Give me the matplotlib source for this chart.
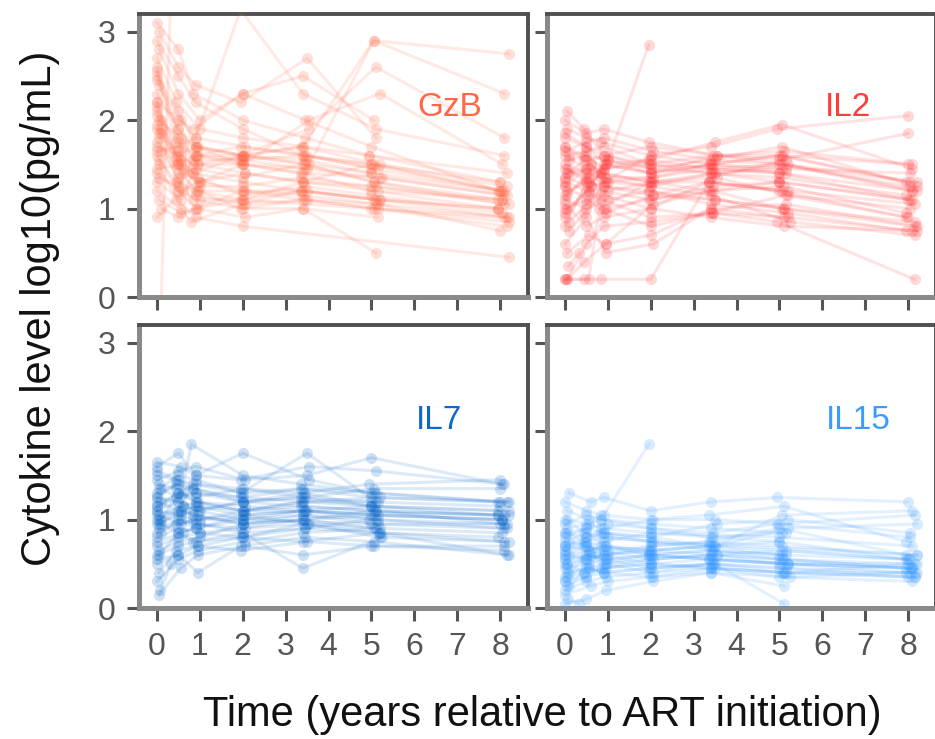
import numpy as np
import matplotlib
matplotlib.use('Agg')
import matplotlib.pyplot as plt

plt.rcParams['font.family'] = ['Liberation Sans', 'DejaVu Sans']

# visit times (years since ART start), one row per participant
TIMES = [
    [0.00, 0.50, 0.90, 2.00, 3.40, 5.00, 8.00],
    [0.00, 0.50, 0.95, 2.00, 3.45, 5.05, 8.05],
    [0.05, 0.55, 0.90, 1.95, 3.40, 5.10, 8.10],
    [0.00, 0.45, 0.85, 2.00, 3.35, 5.00, 7.95],
    [0.00, 0.50, 1.00, 2.05, 3.50, 5.20, 8.20],
    [0.10, 0.60, 0.90, 2.00, 3.40, 4.95, 8.00],
    [0.00, 0.50, 0.95, 1.95, 3.45, 5.05, 8.15],
    [0.05, 0.50, 0.85, 2.00, 3.40, 5.15, 8.05],
    [0.00, 0.55, 0.90, 2.00, 3.55, 5.00, 8.00],
    [0.00, 0.50, 0.95, 2.05, 3.40, 5.10, 8.10],
    [0.05, 0.45, 0.90, 2.00, 3.45, 5.00, 8.20],
    [0.00, 0.50, 1.00, 1.95, 3.40, 5.20, 7.95],
    [0.00, 0.55, 0.80, 2.00, 3.35, 5.05, 8.00],
    [0.10, 0.50, 0.90, 2.00, 3.50, 5.00, 8.10],
    [0.00, 0.60, 0.95, 2.05, 3.40, 5.15, 8.05],
    [0.00, 0.50, 0.85, 2.00, 3.45, 4.95, 8.15],
    [0.05, 0.50, 0.90, 1.95, 3.50, 5.10, 8.00],
    [0.00, 0.45, 1.00, 2.00, 3.40, 5.05, 8.20],
    [0.00, 0.50, 0.90, 2.00, 3.55, 5.20, 8.05],
    [0.05, 0.55, 0.95, 2.05, 3.40, 5.00, 8.10],
    [0.00, 0.50, 0.85, 2.00, 3.35, 5.10, 7.95],
    [0.10, 0.50, 0.90, 1.95, 3.45, 5.05, 8.00],
    [0.00, 0.60, 1.00, 2.00, 3.40, 5.25, 8.15],
    [0.00, 0.50, 0.90, 2.05, 3.50, 5.00, 8.05],
    [0.05, 0.45, 0.95, 2.00, 3.40, 5.15, 8.20],
    [0.00, 0.55, 0.85, 2.00, 3.45, 5.00, 8.00],
    [0.00, 0.50, 0.90, 1.95, 3.55, 5.10, 8.10],
    [0.05, 0.50, 1.00, 2.00, 3.40, 5.05, 8.05],
    [0.08, 0.33, 0.90, 2.00, 3.40, 5.00, 8.00],
    [0.00, 0.55, 0.95, 2.05, 3.35, 5.20, 8.15],
    [0.00, 0.50, 0.85, 2.00, 3.45, 5.00, 7.95],
    [0.10, 0.45, 0.90, 2.00, 3.40, 5.10, 8.20],
    [0.00, 0.50, 0.95, 1.95, 3.50, 5.05, 8.10],
    [0.05, 0.55, 0.90, 2.00, 3.40, 5.15, 8.00],
    [0.00, 0.50, 0.90, 2.00, 3.40, 5.05, 8.10],
    [0.05, 0.55, 0.95, 2.00, 3.45, 5.00, 8.05],
    [0.00, 0.45, 0.85, 1.95, 3.40, 5.15, 8.00],
    [0.10, 0.50, 0.90, 2.05, 3.50, 5.10, 8.15],
    [0.00, 0.60, 1.00, 2.00, 3.35, 5.00, 7.95],
    [0.05, 0.50, 0.90, 2.00, 3.45, 5.20, 8.10],
]

GZB = [
    [2.9, 2.5, 2.2, 1.9, 1.6, 1.5, 1.2],
    [2.6, 1.8, 1.7, 1.6, 1.5, 1.3, 1.1],
    [2.4, 2.0, 1.8, 3.25, 2.3, 1.9, 1.6],
    [2.2, 1.6, 1.5, 1.5, 1.4, 1.2, 1.0],
    [2.1, 1.5, 1.3, 1.2, 1.2, 1.1, 0.9],
    [2.0, 1.7, 1.6, 1.6, 1.7, 1.6, 1.3],
    [1.9, 1.4, 1.2, 1.0, 1.1, 1.0, 0.8],
    [1.8, 1.3, 1.1, 1.0, 1.0, 0.9, None],
    [1.7, 1.6, 1.7, 1.6, 1.5, 1.4, 1.2],
    [1.6, 1.2, 1.0, 0.9, 1.0, 0.5, None],
    [1.5, 1.1, 0.9, 0.8, None, None, 0.45],
    [1.4, 1.2, 1.1, 1.1, 1.2, 1.1, 1.0],
    [1.2, 1.0, 0.85, 1.05, 1.2, 1.1, None],
    [1.0, 0.9, 1.0, 1.1, None, 1.0, 0.9],
    [0.9, 1.2, 1.3, 1.4, 1.3, 1.2, 1.1],
    [3.1, 2.8, 2.3, 2.0, 1.8, 1.6, 1.4],
    [3.0, 2.6, 2.4, 2.2, 2.7, 1.8, None],
    [2.7, 2.2, 1.9, 1.8, 1.7, 2.9, 2.75],
    [2.3, 1.9, 1.7, 1.5, 2.0, 2.3, 1.5],
    [2.0, 1.8, 1.5, 1.4, 1.3, 1.5, 1.2],
    [1.95, 1.6, 1.4, 1.3, 1.2, 1.1, 1.0],
    [1.85, 1.5, 1.6, 1.7, 1.6, 1.5, 1.3],
    [1.75, 1.4, 1.3, 1.5, 1.4, 1.35, 1.15],
    [1.65, 1.7, 1.8, 1.7, 1.6, 1.45, 1.2],
    [1.55, 1.3, 1.2, 1.2, 1.1, 1.0, 0.85],
    [1.45, 1.5, 1.4, 1.6, 1.55, 1.4, None],
    [2.5, 2.1, 1.7, 1.6, 1.9, 2.6, 1.8],
    [2.8, 2.3, 2.0, 2.3, 2.5, 2.0, None],
    [-0.3, 3.6, None, None, None, None, None],
    [1.3, 1.1, 1.5, 1.6, 1.7, 1.5, 1.25],
    [2.2, 2.0, 1.9, 2.3, 2.0, 1.7, 1.2],
    [1.9, 1.5, 1.2, 1.1, 1.3, 1.25, 1.05],
    [2.45, 1.9, 1.6, 1.5, 1.45, 2.9, 2.3],
    [1.1, 0.95, 1.0, 1.2, 1.15, 1.05, 0.75],
    [2.15, 1.65, 1.45, 1.35, 1.5, 1.3, 1.05],
    [1.85, 1.55, 1.35, 1.15, 1.25, 1.15, 0.95],
    [2.55, 1.75, 1.55, 1.55, 1.6, 1.45, None],
    [1.65, 1.35, 1.15, 1.05, 1.1, 1.05, 0.9],
    [2.05, 1.45, 1.25, 1.25, 1.35, 1.25, 1.1],
    [1.35, 1.25, 1.6, 1.55, 1.45, 1.35, 1.15],
]

IL2 = [
    [1.8, 1.7, 1.6, 1.5, 1.4, 1.3, 1.1],
    [1.5, 1.4, 1.5, 1.4, 1.5, 1.6, 1.3],
    [1.2, 1.3, 1.4, 2.85, None, None, None],
    [0.2, 0.2, 0.2, 0.2, 1.3, 1.2, 0.9],
    [1.0, 1.1, 1.2, 1.3, 1.4, 1.5, 1.2],
    [1.4, 1.5, 1.3, 1.6, 1.7, 1.9, 2.05],
    [0.8, 1.3, 1.0, 1.1, 1.2, 1.0, 0.8],
    [1.9, 1.8, 1.75, 1.6, 1.5, 1.4, None],
    [1.3, 1.2, 1.5, 1.4, 1.6, 1.55, 1.85],
    [0.6, 0.9, 0.5, 0.6, 1.0, 0.9, None],
    [2.1, 1.9, 1.6, 1.7, None, None, 1.3],
    [1.1, 1.0, 1.1, 1.2, 1.05, 0.95, 0.75],
    [0.2, 0.2, 1.0, 1.3, 1.3, 1.2, None],
    [1.6, 1.65, 1.7, 1.5, None, 1.4, 1.2],
    [1.25, 1.5, 1.35, 1.35, 1.5, 1.45, 1.4],
    [0.9, 1.2, 1.1, 0.9, 0.95, 0.85, 0.2],
    [1.45, 1.3, 1.25, 1.2, 1.1, 1.0, None],
    [1.7, 1.6, 1.55, 1.45, 1.55, 1.7, 1.25],
    [1.05, 0.8, 0.9, 1.0, 1.35, 1.15, 1.0],
    [0.5, 0.7, 0.6, 1.05, 1.2, 1.3, 1.1],
    [1.35, 1.45, 1.4, 1.3, 1.2, 1.25, 0.95],
    [1.55, 1.6, 1.45, 1.5, 1.6, 1.6, 1.5],
    [0.95, 1.25, 1.3, 1.25, 1.15, 0.85, 0.7],
    [1.65, 1.75, 1.8, 1.65, 1.55, 1.5, 1.25],
    [0.2, 0.4, 0.6, 0.7, 1.0, 1.05, 0.8],
    [1.15, 1.35, 1.2, 1.1, 1.25, 1.3, None],
    [2.0, 1.85, 1.9, 1.75, 1.6, 1.65, 1.5],
    [1.4, 1.55, 1.6, 1.45, 1.4, 1.45, None],
    [0.35, 0.5, None, None, None, None, None],
    [1.25, 1.1, 0.95, 1.15, 1.3, 1.2, 1.05],
    [1.6, 1.45, 1.35, 1.25, 1.4, 1.35, 1.15],
    [0.75, 0.95, 1.15, 1.0, 0.9, 0.8, 0.75],
    [1.85, 1.7, 1.5, 1.55, 1.75, 1.95, 1.45],
    [1.0, 1.2, 1.0, 0.8, 0.95, 1.15, 0.9],
    [1.45, 1.35, 1.45, 1.55, 1.45, 1.5, 1.2],
    [1.15, 1.4, 1.3, 1.35, 1.45, 1.4, 1.1],
    [1.7, 1.55, 1.4, 1.3, 1.35, 1.55, None],
    [0.85, 1.05, 1.25, 1.15, 1.1, 1.0, 0.85],
    [1.35, 1.25, 1.55, 1.4, 1.5, 1.6, 1.3],
    [0.2, 0.6, 0.8, 0.85, 0.95, 0.9, 0.75],
]

IL7 = [
    [1.3, 1.4, 1.3, 1.2, 1.25, 1.2, 1.15],
    [1.1, 1.2, 1.1, 1.0, 1.1, 1.05, 1.0],
    [0.9, 1.0, 0.95, 0.9, 1.0, 1.1, 0.95],
    [1.5, 1.45, 1.4, 1.3, 1.35, 1.25, 1.2],
    [0.7, 0.8, 0.85, 0.9, 0.95, 0.8, 0.75],
    [1.2, 1.3, 1.25, 1.35, 1.3, 1.4, 1.45],
    [0.5, 0.6, 0.4, 0.7, 0.8, 0.75, 0.6],
    [1.0, 1.1, 1.05, 0.95, 1.05, 1.0, None],
    [1.65, 1.6, 1.5, 1.75, 1.45, 1.3, 1.2],
    [0.3, 0.55, 0.65, 0.75, 0.85, 0.9, None],
    [1.4, 1.35, 1.2, 1.1, None, None, 1.05],
    [0.8, 0.9, 0.85, 0.8, 0.75, 0.85, 0.8],
    [1.15, 1.25, 1.85, 1.5, 1.4, 1.3, None],
    [0.95, 0.85, 0.9, 1.0, None, 0.95, 0.9],
    [1.05, 1.15, 1.2, 1.15, 1.1, 1.05, 1.0],
    [0.6, 0.7, 0.75, 0.85, 0.9, 1.0, 0.95],
    [1.35, 1.5, 1.45, 1.3, 1.75, 1.2, None],
    [0.85, 0.95, 1.0, 1.1, 1.2, 1.15, 1.1],
    [1.25, 1.2, 1.15, 1.05, 0.95, 0.9, 0.85],
    [0.15, 0.45, 0.6, 0.7, 0.6, 0.7, 0.7],
    [1.55, 1.45, 1.35, 1.2, 1.15, 1.1, 1.05],
    [1.0, 1.3, 1.4, 1.35, 1.25, 1.35, 1.35],
    [0.75, 0.85, 0.95, 0.85, 0.45, 0.8, None],
    [1.45, 1.55, 1.6, 1.45, 1.5, 1.7, 1.4],
    [0.4, 0.65, 0.7, 0.8, 0.95, 0.85, 0.6],
    [1.1, 1.05, 1.0, 1.05, 1.1, 1.15, None],
    [1.6, 1.75, 1.5, 1.45, 1.6, 1.55, 1.4],
    [0.65, 0.75, 0.8, 0.95, 1.0, 0.9, None],
    [0.2, 0.5, None, None, None, None, None],
    [1.2, 1.1, 1.15, 1.1, 1.2, 1.25, 1.2],
    [0.95, 1.05, 1.1, 1.2, 1.3, 1.15, 1.05],
    [1.35, 1.25, 1.3, 1.25, 1.35, 1.3, 1.2],
    [0.55, 0.6, 0.7, 0.65, 0.75, 0.7, 0.65],
    [1.05, 0.95, 1.0, 1.0, 1.05, 0.95, 0.95],
    [1.15, 1.3, 1.2, 1.1, 1.15, 1.1, 1.05],
    [0.95, 1.1, 1.05, 0.95, 1.0, 1.05, 1.0],
    [1.25, 1.4, 1.35, 1.25, 1.2, 1.2, None],
    [0.85, 1.0, 0.9, 1.05, 1.1, 1.0, 0.9],
    [1.0, 1.15, 1.1, 1.2, 1.25, 1.15, 1.1],
    [0.6, 0.85, 0.75, 0.8, 0.9, 0.85, 0.75],
]

IL15 = [
    [0.8, 0.9, 0.85, 0.8, 0.7, 0.75, 0.55],
    [0.5, 0.6, 0.55, 0.6, 0.65, 0.55, 0.45],
    [1.1, 1.0, 1.05, 1.85, None, None, None],
    [0.3, 0.4, 0.45, 0.5, 0.55, 0.5, 0.4],
    [0.7, 0.75, 0.8, 0.75, 0.7, 0.9, 0.95],
    [1.3, 1.2, 1.25, 1.1, 1.2, 1.25, 1.2],
    [0.2, 0.3, 0.35, 0.4, 0.5, 0.4, 0.35],
    [0.9, 0.95, 1.0, 0.95, 0.9, 0.85, None],
    [0.6, 0.65, 0.7, 0.65, 0.6, 0.55, 0.5],
    [0.05, 0.1, 0.2, 0.3, 0.4, 0.25, None],
    [1.0, 0.85, 0.8, 0.75, None, None, 0.6],
    [0.45, 0.5, 0.55, 0.6, 0.55, 0.5, 0.45],
    [0.35, 0.5, 0.6, 0.65, 0.7, 0.6, None],
    [0.75, 0.7, 0.75, 0.85, None, 0.8, 0.7],
    [0.55, 0.6, 0.5, 0.55, 0.6, 0.65, 0.55],
    [0.95, 1.05, 1.0, 0.9, 0.85, 0.95, 1.05],
    [0.25, 0.35, 0.4, 0.45, 0.5, 0.05, None],
    [0.65, 0.7, 0.65, 0.7, 0.75, 0.7, 0.6],
    [0.85, 0.8, 0.85, 0.8, 0.95, 1.0, 0.85],
    [0.4, 0.45, 0.5, 0.4, 0.45, 0.35, 0.3],
    [1.2, 1.1, 1.05, 1.0, 1.05, 1.15, 0.75],
    [0.6, 0.55, 0.6, 0.65, 0.7, 0.65, 0.55],
    [0.15, 0.25, 0.3, 0.35, 0.4, 0.35, 0.4],
    [0.7, 0.8, 0.9, 1.0, 1.0, 0.95, 0.8],
    [0.5, 0.4, 0.45, 0.5, 0.45, 0.4, 0.5],
    [1.0, 0.95, 0.9, 0.85, 0.8, 0.75, None],
    [0.3, 0.35, 0.45, 0.55, 0.6, 0.55, 0.45],
    [0.85, 0.9, 0.95, 0.9, 0.8, 0.85, None],
    [0.1, 0.05, None, None, None, None, None],
    [0.55, 0.65, 0.7, 0.6, 0.55, 0.5, 0.5],
    [0.65, 0.75, 0.85, 0.75, 0.65, 0.6, 0.55],
    [0.4, 0.55, 0.6, 0.5, 0.45, 0.4, 0.4],
    [0.75, 0.85, 0.7, 0.65, 0.7, 1.05, 1.1],
    [0.35, 0.45, 0.4, 0.45, 0.5, 0.45, 0.35],
    [0.6, 0.7, 0.65, 0.55, 0.6, 0.5, 0.45],
    [0.45, 0.6, 0.55, 0.45, 0.5, 0.45, 0.4],
    [0.85, 0.75, 0.7, 0.6, 0.65, 0.6, None],
    [0.25, 0.45, 0.4, 0.35, 0.45, 0.4, 0.35],
    [0.7, 0.65, 0.6, 0.7, 0.75, 0.9, 0.6],
    [0.5, 0.55, 0.5, 0.6, 0.55, 0.5, 0.45],
]

PANELS = ['GzB', 'IL2', 'IL7', 'IL15']
COLORS = ['#ff6645', '#ff3c3c', '#0b68cc', '#3a9bff']
X_TICKS = [0, 1, 2, 3, 4, 5, 6, 7, 8]
Y_TICKS = [0, 1, 2, 3]

fig = plt.figure(figsize=(9.35, 7.39), dpi=100)
W, H = 935, 739
boxes = [(139, 14), (547, 14), (139, 325), (547, 325)]
label_pos = [(0.80, 0.668), (0.775, 0.668), (0.77, 0.664), (0.80, 0.664)]
pw, ph = 389, 283

times = np.array(TIMES, dtype=float)
for i, (name, data, col) in enumerate(zip(PANELS, [GZB, IL2, IL7, IL15], COLORS)):
    x0, y0 = boxes[i]
    ax = fig.add_axes([x0 / W, 1 - (y0 + ph) / H, pw / W, ph / H])
    vals = np.array(data, dtype=float)
    for t, v in zip(times, vals):
        ok = ~np.isnan(v)
        ax.plot(t[ok], v[ok], '-', color=col, lw=2.2, alpha=0.14, zorder=2)
        ax.plot(t[ok], v[ok], 'o', color=col, ms=8, mew=0, alpha=0.2, zorder=3)
    ax.set_xlim(-0.42, 8.65)
    ax.set_ylim(0, 3.2)
    ax.set_xticks(X_TICKS)
    ax.set_yticks(Y_TICKS)
    ax.tick_params(length=9, width=2.2, color='#555555', labelsize=23,
                   labelcolor='#555555', pad=8)
    if i % 2 == 1:
        ax.tick_params(labelleft=False)
    if i < 2:
        ax.tick_params(labelbottom=False)
    for side in ['top', 'right']:
        ax.spines[side].set_color('#505050')
        ax.spines[side].set_linewidth(2.8)
    for side in ['left', 'bottom']:
        ax.spines[side].set_color('#8a8a8a')
        ax.spines[side].set_linewidth(3.6)
    lx, ly = label_pos[i]
    ax.text(lx, ly, name, transform=ax.transAxes, ha='center', va='center',
            fontsize=24, color=col)

fig.text(40 / W, 1 - 308 / H, 'Cytokine level log10(pg/mL)', rotation=90,
         ha='center', va='center', fontsize=30, color='#111111')
fig.text(542 / W, 1 - 715 / H, 'Time (years relative to ART initiation)',
         ha='center', va='center', fontsize=30, color='#111111')

fig.savefig('out.png', dpi=100)
